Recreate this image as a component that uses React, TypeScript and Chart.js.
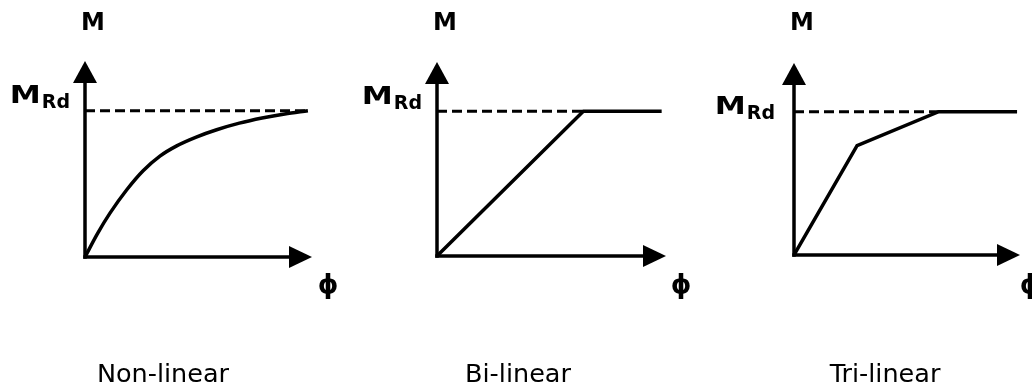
import React, { useEffect, useRef } from "react";
import { Chart, registerables } from "chart.js";

Chart.register(...registerables);

const W = 1032;
const H = 387;

// Axis ranges (phi in arbitrary units, M relative to M_Rd)
const X_MAX = 10;
const Y_MAX = 1.34;
const M_RD = 1;

// ---- Data ----
const panelTitles = ["Non-linear", "Bi-linear", "Tri-linear"];
const yAxisLabel = "M";
const xAxisLabel = "ϕ";
const yieldLabelMain = "M";
const yieldLabelSub = "Rd";

const nonLinearPhi = [0, 0.55, 1.1, 1.84, 2.56, 3.3, 4.04, 4.9, 5.8, 6.8, 7.8, 8.8, 9.82];
const nonLinearM = [0, 0.16, 0.3, 0.46, 0.59, 0.69, 0.76, 0.82, 0.87, 0.915, 0.95, 0.978, 1.0];

const biLinearPhi = [0, 6.39, 9.81];
const biLinearM = [0, 1, 1];

const triLinearPhi = [0, 2.79, 6.4, 9.87];
const triLinearM = [0, 0.763, 1, 1];

// phi where the dashed M_Rd reference line ends
const dashEndPhi = [9.82, 6.39, 6.4];

// ---- Layout (positions/styles) ----
const PANELS = [
  {
    phi: nonLinearPhi,
    m: nonLinearM,
    smooth: true,
    pad: { left: 85, right: 720, top: 61, bottom: 130 },
    titleX: 163,
    rdBaseline: 103,
    rdRightGap: 15,
    phiDx: 16,
  },
  {
    phi: biLinearPhi,
    m: biLinearM,
    smooth: false,
    pad: { left: 437, right: 366, top: 62, bottom: 131 },
    titleX: 518,
    rdBaseline: 104,
    rdRightGap: 15,
    phiDx: 15,
  },
  {
    phi: triLinearPhi,
    m: triLinearM,
    smooth: false,
    pad: { left: 794, right: 12, top: 63, bottom: 132 },
    titleX: 885,
    rdBaseline: 114,
    rdRightGap: 19,
    phiDx: 10,
  },
];

function makeOverlay(idx: number) {
  const p = PANELS[idx];
  return {
    id: "overlay" + idx,
    afterDraw(chart: any) {
      const { ctx, scales } = chart;
      const x = scales.x;
      const y = scales.y;
      const x0 = x.getPixelForValue(0);
      const y0 = y.getPixelForValue(0);
      const xT = x.getPixelForValue(X_MAX);
      const yT = y.getPixelForValue(Y_MAX);
      ctx.save();
      ctx.strokeStyle = "#000";
      ctx.fillStyle = "#000";
      ctx.lineWidth = 3.5;
      ctx.lineCap = "butt";
      // y axis
      ctx.beginPath();
      ctx.moveTo(x0, y0 + 1.75);
      ctx.lineTo(x0, yT + 15);
      ctx.stroke();
      ctx.beginPath();
      ctx.moveTo(x0, yT);
      ctx.lineTo(x0 - 12, yT + 22);
      ctx.lineTo(x0 + 12, yT + 22);
      ctx.closePath();
      ctx.fill();
      // x axis
      ctx.beginPath();
      ctx.moveTo(x0 - 1.75, y0);
      ctx.lineTo(xT - 15, y0);
      ctx.stroke();
      ctx.beginPath();
      ctx.moveTo(xT, y0);
      ctx.lineTo(xT - 23, y0 - 11);
      ctx.lineTo(xT - 23, y0 + 11);
      ctx.closePath();
      ctx.fill();

      // M label on top
      ctx.textBaseline = "alphabetic";
      ctx.textAlign = "center";
      ctx.font = "bold 24px 'DejaVu Sans'";
      ctx.fillText(yAxisLabel, x0 + 8, 30);

      // phi label
      ctx.font = "bold 26px 'DejaVu Sans'";
      ctx.textAlign = "center";
      ctx.textBaseline = "middle";
      ctx.fillText(xAxisLabel, xT + p.phiDx, 286);

      // M_Rd label
      ctx.textBaseline = "alphabetic";
      ctx.textAlign = "right";
      ctx.font = "bold 19px 'DejaVu Sans'";
      const rdRight = x0 - p.rdRightGap;
      ctx.fillText(yieldLabelSub, rdRight, p.rdBaseline + 5);
      const subW = ctx.measureText(yieldLabelSub).width;
      ctx.font = "bold 24px 'DejaVu Sans'";
      ctx.save();
      ctx.translate(rdRight - subW - 1, p.rdBaseline);
      ctx.scale(1.3, 1);
      ctx.fillText(yieldLabelMain, 0, 0);
      ctx.restore();

      // title
      ctx.font = "25.5px 'DejaVu Sans'";
      ctx.textAlign = "center";
      ctx.fillText(panelTitles[idx], p.titleX, 382);
      ctx.restore();
    },
  };
}

function Panel({ idx }: { idx: number }) {
  const ref = useRef<HTMLCanvasElement | null>(null);
  useEffect(() => {
    const p = PANELS[idx];
    const curve = p.phi.map((v, i) => ({ x: v, y: p.m[i] }));
    const dash = [
      { x: 0, y: M_RD },
      { x: dashEndPhi[idx], y: M_RD },
    ];
    const chart = new Chart(ref.current as HTMLCanvasElement, {
      type: "line",
      data: {
        datasets: [
          {
            data: dash,
            borderColor: "#000",
            borderWidth: 3,
            borderDash: [10, 5],
            pointRadius: 0,
            fill: false,
          },
          {
            data: curve,
            borderColor: "#000",
            borderWidth: 3.5,
            pointRadius: 0,
            fill: false,
            tension: p.smooth ? 0.4 : 0,
            cubicInterpolationMode: p.smooth ? "monotone" : "default",
            borderJoinStyle: "miter",
          },
        ],
      },
      options: {
        animation: false,
        responsive: false,
        devicePixelRatio: 1,
        events: [],
        layout: { padding: p.pad },
        plugins: { legend: { display: false }, tooltip: { enabled: false }, title: { display: false } },
        scales: {
          x: { type: "linear", min: 0, max: X_MAX, display: false },
          y: { type: "linear", min: 0, max: Y_MAX, display: false },
        },
      } as any,
      plugins: [makeOverlay(idx)],
    });
    return () => chart.destroy();
  }, [idx]);
  return (
    <canvas
      ref={ref}
      width={W}
      height={H}
      style={{ position: "absolute", left: 0, top: 0, width: W, height: H }}
    />
  );
}

export default function App() {
  return (
    <div style={{ position: "absolute", left: 0, top: 0, width: W, height: H, background: "#fff", overflow: "hidden" }}>
      <Panel idx={0} />
      <Panel idx={1} />
      <Panel idx={2} />
    </div>
  );
}
